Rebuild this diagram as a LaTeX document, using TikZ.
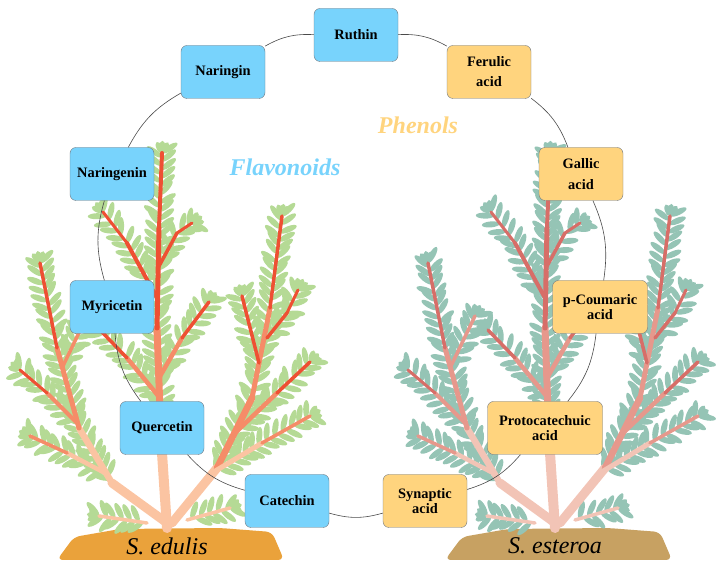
\documentclass[tikz,border=0pt]{standalone}
\usepackage{fontspec}
\setmainfont{Liberation Serif}
\usetikzlibrary{shapes.geometric}

\definecolor{flavblue}{HTML}{78D3FC}
\definecolor{phenorange}{HTML}{FFD47E}
\definecolor{boxgray}{HTML}{6F7780}
\definecolor{ringgray}{HTML}{4A4A4A}
\definecolor{edulisleaf}{HTML}{B5DA95}
\definecolor{edulisA}{HTML}{FBC4A2}
\definecolor{edulisB}{HTML}{F58C68}
\definecolor{edulisC}{HTML}{EE5033}
\definecolor{edulissoil}{HTML}{EAA23B}
\definecolor{esteroaleaf}{HTML}{95C4B5}
\definecolor{esteroaA}{HTML}{F2C4B6}
\definecolor{esteroaB}{HTML}{E6988C}
\definecolor{esteroaC}{HTML}{D76E68}
\definecolor{esteroasoil}{HTML}{C7A162}

% x1/y1/x2/y2/width/colour/leaves
\newcommand\shrubdata{%
  0/0/-6/90/10/stA/0, -6/90/-10/200/7/stB/1, -10/200/-8/300/5/stC/1, -8/300/-5/375/4/stC/2,
  -10/230/-40/285/4/stC/1, -40/285/-64/316/3/stC/2,
  -9/260/10/295/3.5/stC/1, 10/295/25/305/3/stC/2,
  -8/150/15/190/4.5/stB/1, 15/190/42/226/3.5/stC/2,
  -7/130/-40/170/4.5/stB/1, -40/170/-67/198/3.5/stC/2,
  0/5/-55/45/9/stA/0, -55/45/-88/100/6.5/stA/1, -88/100/-110/180/5/stB/1, -110/180/-127/265/3.5/stC/2,
  -90/105/-120/135/4/stB/1, -120/135/-147/158/3/stC/2,
  -62/55/-100/75/4.5/stA/1, -100/75/-137/92/3.5/stB/2,
  -105/160/-80/212/3.5/stB/2,
  5/5/50/60/9/stA/0, 50/60/85/130/6.5/stB/1, 85/130/103/220/5/stB/1, 103/220/115/312/3.5/stC/2,
  68/95/110/135/4.5/stB/1, 110/135/143/166/3.5/stC/2,
  45/55/95/85/5/stA/1, 95/85/143/112/3.5/stB/2,
  100/190/120/215/3.5/stC/1, 120/215/131/238/3/stC/2,
  92/165/75/232/3.5/stC/2,
  -20/5/-68/12/3.5/stA/2, 20/8/63/20/3.5/stA/2}

\begin{document}
\begin{tikzpicture}[x=1pt,y=1pt]
  \tikzset{
    compound/.style={draw=boxgray, rounded corners=6pt, minimum width=84pt,
      minimum height=53pt, inner xsep=7pt, align=center,
      font=\bfseries\fontsize{14.4}{15}\selectfont},
    flav/.style={compound, fill=flavblue},
    phen/.style={compound, fill=phenorange},
    ring/.style={draw=ringgray, line width=0.6pt, bend right=16},
    group/.style={font=\bfseries\itshape\fontsize{24}{24}\selectfont},
    species/.style={font=\itshape\fontsize{24}{24}\selectfont},
    leaf/.style={ellipse, fill=leafc, inner sep=0pt, minimum width=18pt,
      minimum height=6pt, sloped, allow upside down, anchor=west},
    shrub/.pic={
      \foreach \xa/\ya/\xb/\yb/\w/\col/\lf in \shrubdata {
        \ifnum\lf>0
          \pgfmathtruncatemacro\nl{max(2,veclen(\xb-\xa,\yb-\ya)/8)}
          \foreach \k in {1,...,\nl}{
            \pgfmathsetmacro\pa{(\k-0.5)/\nl}
            \pgfmathsetmacro\pb{\k/\nl}
            \pgfmathsetmacro\ra{50+12*rand}
            \pgfmathsetmacro\rb{-50+12*rand}
            \path (\xa,\ya) -- (\xb,\yb)
              node[leaf, pos=\pa, rotate=\ra] {}
              node[leaf, pos=\pb, rotate=\rb] {};
          }
          \ifnum\lf=2
            \foreach \r in {-28,0,28}
              \path (\xa,\ya) -- (\xb,\yb) node[leaf, pos=1, rotate=\r, minimum width=12pt] {};
          \fi
        \fi
      }
      \foreach \xa/\ya/\xb/\yb/\w/\col/\lf in \shrubdata
        \draw[line width=\w pt, draw=\col, line cap=round] (\xa,\ya) -- (\xb,\yb);
    }
  }
  \useasboundingbox (0,0) rectangle (721,575);
  \pgfmathsetseed{17}

  \fill[edulissoil, rounded corners=6pt]
    (57,15) -- (74,38) -- (120,46) -- (220,47) -- (272,43) -- (284,15) -- cycle;
  \fill[esteroasoil, rounded corners=6pt]
    (445,15) -- (462,38) -- (508,46) -- (608,47) -- (660,43) -- (672,15) -- cycle;

  \colorlet{leafc}{edulisleaf}
  \colorlet{stA}{edulisA}
  \colorlet{stB}{edulisB}
  \colorlet{stC}{edulisC}
  \pic at (167,47) {shrub};
  \colorlet{leafc}{esteroaleaf}
  \colorlet{stA}{esteroaA}
  \colorlet{stB}{esteroaB}
  \colorlet{stC}{esteroaC}
  \pic at (555,47) {shrub};

  \node[species] (edulis) at (167,29) {S. edulis};
  \node[species] (esteroa) at (555,29) {S. esteroa};

  \node[flav] (ruthin) at (356,540) {Ruthin};
  \node[flav] (naringin) at (223,503) {Naringin};
  \node[flav] (naringenin) at (112,401) {Naringenin};
  \node[flav] (myricetin) at (112,268) {Myricetin};
  \node[flav] (quercetin) at (162,147) {Quercetin};
  \node[flav] (catechin) at (287,74) {Catechin};
  \node[phen] (synaptic) at (425,74) {Synaptic\\acid};
  \node[phen, minimum width=115pt] (protocatechuic) at (545,147) {Protocatechuic\\acid};
  \node[phen, minimum width=95pt] (coumaric) at (600,268) {p-Coumaric\\acid};
  \node[phen] (gallic) at (581,401) {Gallic\\[6pt]acid};
  \node[phen] (ferulic) at (489,503) {Ferulic\\[5pt]acid};

  \draw[ring] (ruthin) to (naringin);
  \draw[ring] (naringin) to (naringenin);
  \draw[ring] (naringenin) to (myricetin);
  \draw[ring] (myricetin) to (quercetin);
  \draw[ring] (quercetin) to (catechin);
  \draw[ring] (catechin) to (synaptic);
  \draw[ring] (synaptic) to (protocatechuic);
  \draw[ring] (protocatechuic) to (coumaric);
  \draw[ring] (coumaric) to (gallic);
  \draw[ring] (gallic) to (ferulic);
  \draw[ring] (ferulic) to (ruthin);

  \node[group, text=flavblue] (flavonoids) at (285,408) {Flavonoids};
  \node[group, text=phenorange] (phenols) at (418,450) {Phenols};
\end{tikzpicture}
\end{document}
